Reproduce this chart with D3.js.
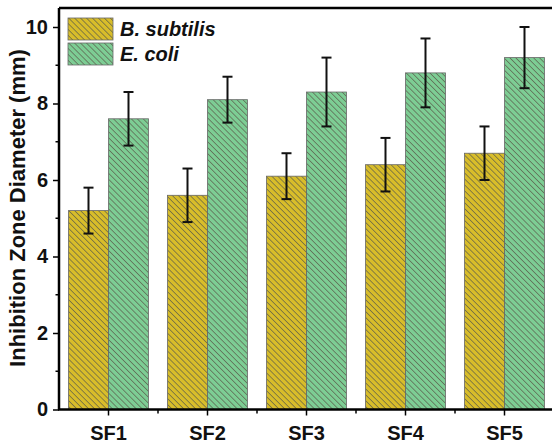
<!DOCTYPE html>
<html>
<head>
<meta charset="utf-8">
<script src="https://cdn.jsdelivr.net/npm/d3@7"></script>
<style>
  body { margin: 0; background: #fff; }
  svg { display: block; font-family: "Liberation Sans", Arial, sans-serif; }
</style>
</head>
<body>
<div id="wrapper"></div>
<script>
const categories = ["SF1", "SF2", "SF3", "SF4", "SF5"];
const seriesNames = ["B. subtilis", "E. coli"];
const bSubtilis = [5.2, 5.6, 6.1, 6.4, 6.7];
const bSubtilisErr = [0.6, 0.7, 0.6, 0.7, 0.7];
const eColi = [7.6, 8.1, 8.3, 8.8, 9.2];
const eColiErr = [0.7, 0.6, 0.9, 0.9, 0.8];
const yTicks = [0, 2, 4, 6, 8, 10];
const yMinorTicks = [1, 3, 5, 7, 9];

function draw() {
  const width = 552, height = 444;
  const margin = { top: 8, left: 59 };

  const svg = d3.select("#wrapper")
    .append("svg")
      .attr("width", width)
      .attr("height", height);

  const defs = svg.append("defs");
  const fills = ["#d8bd2a", "#7dcd94"];
  fills.forEach((c, i) => {
    const p = defs.append("pattern")
      .attr("id", "hatch" + i)
      .attr("patternUnits", "userSpaceOnUse")
      .attr("width", 4.2)
      .attr("height", 4.2)
      .attr("patternTransform", "rotate(-45)");
    p.append("rect").attr("width", 4.2).attr("height", 4.2).attr("fill", c);
    p.append("line")
      .attr("x1", 0).attr("y1", 0).attr("x2", 0).attr("y2", 4.2)
      .attr("stroke", "#5a5a4a")
      .attr("stroke-width", 1.3);
  });

  // one category per step, axis starts half a step left of SF1
  const step = 99;
  const x = d3.scalePoint()
    .domain(categories)
    .range([margin.left + step / 2, margin.left + step * 4.5]);
  const y = d3.scaleLinear()
    .domain([0, 10.5])
    .range([409.5, 409.5 - 10.5 * 38.25]);

  const barW = 40;
  const data = categories.map((c, i) => [
    { cat: c, s: 0, v: bSubtilis[i], e: bSubtilisErr[i] },
    { cat: c, s: 1, v: eColi[i], e: eColiErr[i] }
  ]).flat();

  svg.append("g")
    .selectAll("rect")
    .data(data)
    .join("rect")
      .attr("x", d => x(d.cat) + (d.s === 0 ? -barW : 0))
      .attr("y", d => y(d.v))
      .attr("width", barW)
      .attr("height", d => y(0) - y(d.v))
      .attr("fill", d => "url(#hatch" + d.s + ")")
      .attr("stroke", "#666")
      .attr("stroke-width", 0.8);

  // error bars
  const err = svg.append("g")
    .attr("stroke", "#111")
    .attr("stroke-width", 2);
  data.forEach(d => {
    const cx = x(d.cat) + (d.s === 0 ? -barW / 2 : barW / 2);
    err.append("line").attr("x1", cx).attr("x2", cx)
      .attr("y1", y(d.v + d.e)).attr("y2", y(d.v - d.e));
    err.append("line").attr("x1", cx - 5).attr("x2", cx + 5)
      .attr("y1", y(d.v + d.e)).attr("y2", y(d.v + d.e));
    err.append("line").attr("x1", cx - 5).attr("x2", cx + 5)
      .attr("y1", y(d.v - d.e)).attr("y2", y(d.v - d.e));
  });

  // frame top line
  svg.append("line")
    .attr("x1", margin.left).attr("x2", width)
    .attr("y1", margin.top).attr("y2", margin.top)
    .attr("stroke", "#000").attr("stroke-width", 2.5);

  // y axis
  const yAxis = svg.append("g")
    .attr("transform", "translate(" + margin.left + ",0)")
    .call(d3.axisLeft(y).tickValues(yTicks).tickSize(6).tickPadding(5).tickFormat(d3.format("d")));
  yAxis.select(".domain").attr("d", "M0," + margin.top + "V" + y(0)).attr("stroke-width", 2.5);
  yAxis.selectAll(".tick line").attr("stroke-width", 1.5);
  yAxis.selectAll("text")
    .attr("font-size", 20).attr("font-weight", "bold").attr("fill", "#111")
    .attr("font-family", "Liberation Sans, Arial, sans-serif");
  svg.append("g")
    .attr("transform", "translate(" + margin.left + ",0)")
    .selectAll("line")
    .data(yMinorTicks)
    .join("line")
      .attr("x1", -3.5).attr("x2", 0)
      .attr("y1", d => y(d)).attr("y2", d => y(d))
      .attr("stroke", "#000").attr("stroke-width", 1.5);

  // x axis
  const xAxis = svg.append("g")
    .attr("transform", "translate(0," + y(0) + ")");
  xAxis.append("line")
    .attr("x1", margin.left - 1).attr("x2", width)
    .attr("stroke", "#000").attr("stroke-width", 2.5);
  xAxis.selectAll(".major")
    .data(categories)
    .join("line")
      .attr("class", "major")
      .attr("x1", d => x(d)).attr("x2", d => x(d))
      .attr("y1", 0).attr("y2", 6)
      .attr("stroke", "#000").attr("stroke-width", 1.5);
  xAxis.selectAll(".minor")
    .data(categories.slice(1))
    .join("line")
      .attr("class", "minor")
      .attr("x1", d => x(d) - step / 2).attr("x2", d => x(d) - step / 2)
      .attr("y1", 0).attr("y2", 4)
      .attr("stroke", "#000").attr("stroke-width", 1.5);
  xAxis.selectAll("text")
    .data(categories)
    .join("text")
      .attr("x", d => x(d))
      .attr("y", 30)
      .attr("text-anchor", "middle")
      .attr("font-size", 20)
      .attr("font-weight", "bold")
      .attr("fill", "#111")
      .text(d => d);

  // y title
  svg.append("text")
    .attr("transform", "translate(25,208) rotate(-90)")
    .attr("text-anchor", "middle")
    .attr("font-size", 22)
    .attr("font-weight", "bold")
    .attr("fill", "#111")
    .text("Inhibition Zone Diameter (mm)");

  // legend
  const legend = svg.append("g").attr("transform", "translate(68,18)");
  seriesNames.forEach((name, i) => {
    const g = legend.append("g").attr("transform", "translate(0," + i * 25 + ")");
    g.append("rect")
      .attr("width", 45).attr("height", 22)
      .attr("fill", "url(#hatch" + i + ")")
      .attr("stroke", "#666").attr("stroke-width", 0.8);
    g.append("text")
      .attr("x", 52).attr("y", 18)
      .attr("font-size", 20)
      .attr("font-weight", "bold")
      .attr("font-style", "italic")
      .attr("fill", "#111")
      .text(name);
  });
}
draw();
</script>
</body>
</html>
